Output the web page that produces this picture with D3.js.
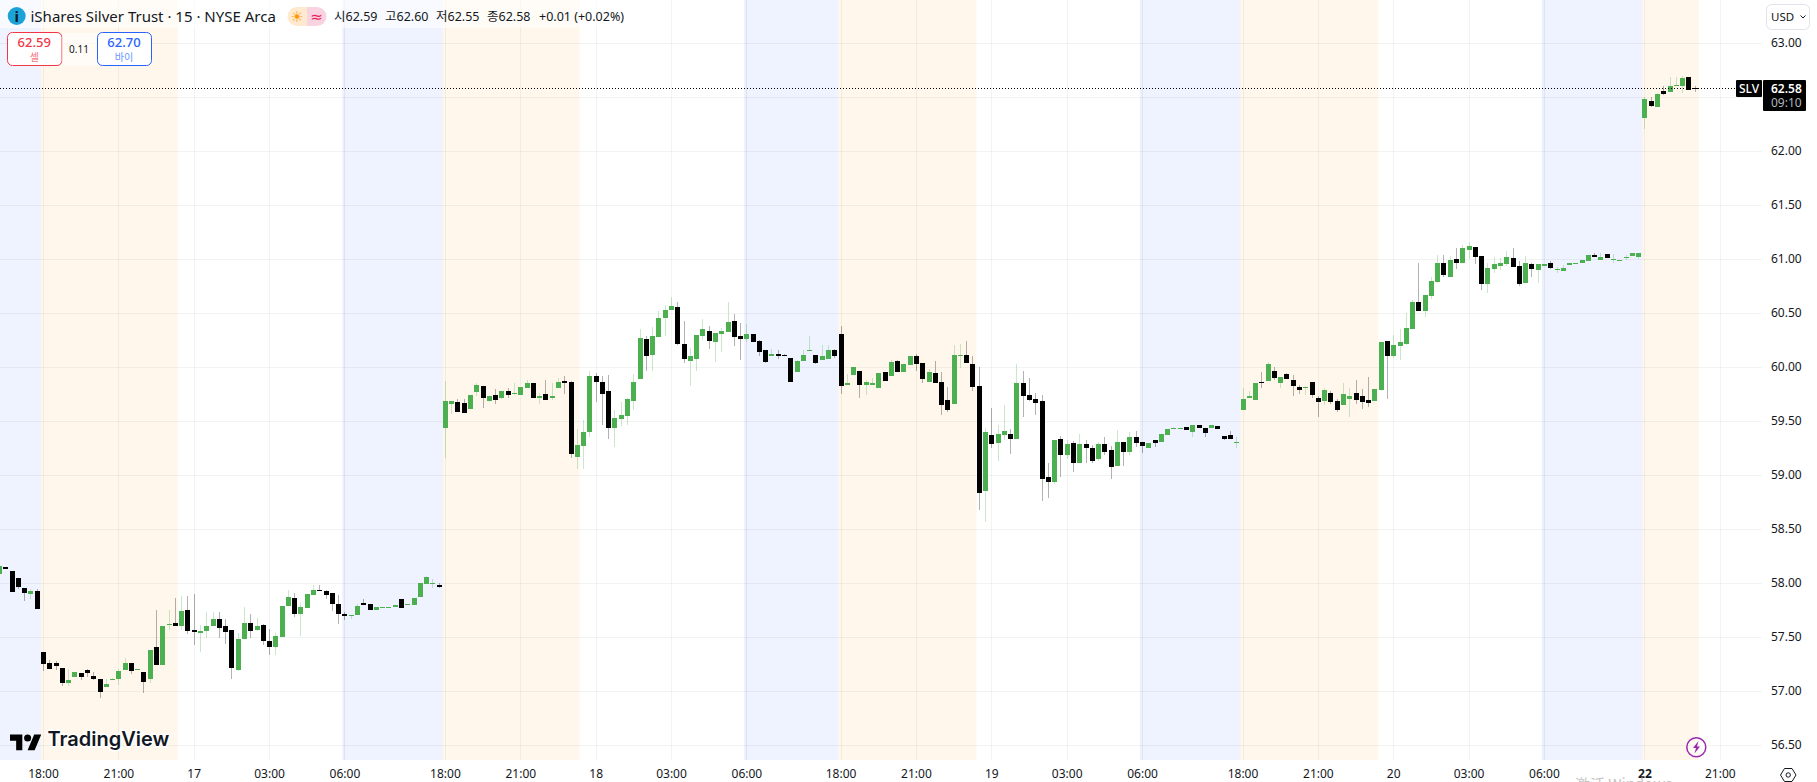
<!DOCTYPE html>
<html>
<head>
<meta charset="utf-8">
<script src="https://cdn.jsdelivr.net/npm/d3@7"></script>
<style>
  html, body { margin: 0; padding: 0; background: #fff; overflow: hidden; }
  svg { display: block; }
  text { font-family: "Noto Sans", "Noto Sans CJK KR", sans-serif; fill: #131722; }
</style>
</head>
<body>
<div id="chart"></div>
<script>
// bars run from index -7 (last bars before the first tick) to 263
var firstBar = -7;

var opens = [
  58.09,58.15,58.11,58.05,57.96,57.90,57.93,
  // 16th
  57.36,57.26,57.26,57.22,57.08,57.13,57.17,57.20,57.14,57.11,
  57.04,57.10,57.11,57.20,57.26,57.20,57.18,57.11,57.41,57.24,
  57.61,57.63,57.60,57.75,57.57,57.54,57.56,57.60,57.67,57.60,
  57.57,57.20,57.48,57.63,57.57,57.61,57.47,57.41,57.50,57.79,
  57.86,57.72,57.77,57.89,57.94,57.93,57.91,57.81,57.72,57.70,
  57.71,57.82,57.81,57.75,57.77,57.77,57.78,57.85,57.80,57.80,
  57.87,57.99,57.99,57.98,
  // 17th
  59.44,59.66,59.68,59.67,59.61,59.77,59.83,59.69,59.74,59.72,
  59.78,59.75,59.74,59.81,59.85,59.72,59.75,59.72,59.81,59.87,
  59.86,59.17,59.27,59.40,59.92,59.86,59.78,59.44,59.52,59.55,
  59.69,59.89,60.26,60.11,60.28,60.46,60.53,60.56,60.22,60.06,
  60.08,60.29,60.34,60.23,60.31,60.33,60.43,60.29,60.26,60.31,
  60.24,60.16,60.10,60.12,60.11,60.09,59.96,60.06,60.15,60.11,
  60.07,60.08,60.16,
  // 18th
  60.31,59.84,59.93,59.97,59.84,59.84,59.81,59.96,59.92,60.06,
  59.96,60.02,60.10,60.04,59.86,59.95,59.86,59.70,59.66,60.10,
  60.11,60.03,59.83,58.85,59.37,59.30,59.37,59.38,59.34,59.85,
  59.74,59.71,59.69,58.98,58.94,59.34,59.19,59.30,59.11,59.29,
  59.25,59.15,59.29,59.23,59.09,59.31,59.22,59.35,59.31,59.25,
  59.33,59.31,59.37,59.43,59.43,59.45,59.40,59.47,59.44,59.44,
  59.46,59.36,59.37,59.30,
  // 19th
  59.60,59.72,59.70,59.86,59.87,59.97,59.85,59.94,59.88,59.82,
  59.81,59.86,59.72,59.69,59.76,59.69,59.65,59.71,59.76,59.73,
  59.70,59.69,59.79,60.24,60.10,60.20,60.22,60.35,60.60,60.52,
  60.66,60.79,60.97,60.84,61.00,60.97,61.09,61.11,61.03,60.77,
  60.91,60.94,60.96,61.01,60.94,60.78,60.96,60.90,60.94,60.97,
  60.90,60.89,60.95,60.96,60.97,60.98,61.04,60.99,61.05,60.99,
  60.98,61.01,61.03,61.02,
  // 22nd
  62.31,62.47,62.41,62.56,62.55,62.60,62.60,62.69,62.59
];

var closes = [
  58.16,58.13,57.92,57.97,57.91,57.93,57.76,
  57.25,57.21,57.23,57.08,57.10,57.18,57.13,57.17,57.11,56.99,
  57.07,57.11,57.19,57.26,57.19,57.21,57.09,57.38,57.24,57.60,
  57.62,57.60,57.74,57.56,57.55,57.56,57.60,57.67,57.59,57.55,
  57.22,57.48,57.63,57.56,57.60,57.47,57.41,57.51,57.79,57.87,
  57.72,57.78,57.90,57.94,57.93,57.89,57.81,57.72,57.70,57.71,
  57.79,57.80,57.75,57.78,57.78,57.78,57.80,57.77,57.81,57.86,
  58.00,58.06,58.00,57.97,
  59.69,59.69,59.59,59.58,59.74,59.84,59.72,59.73,59.70,59.78,
  59.74,59.76,59.82,59.85,59.72,59.73,59.70,59.73,59.86,59.85,
  59.20,59.28,59.40,59.92,59.86,59.75,59.44,59.53,59.56,59.71,
  59.86,60.27,60.10,60.29,60.46,60.53,60.57,60.22,60.08,60.10,
  60.30,60.35,60.24,60.32,60.34,60.42,60.28,60.26,60.31,60.23,
  60.14,60.05,60.12,60.10,60.10,59.86,60.06,60.11,60.16,60.04,
  60.10,60.16,60.10,
  59.83,59.85,60.00,59.84,59.86,59.85,59.95,59.87,60.05,59.96,
  60.03,60.10,60.03,59.89,59.96,59.85,59.65,59.60,60.11,60.11,
  60.04,59.82,58.84,59.40,59.29,59.38,59.41,59.34,59.85,59.73,
  59.70,59.67,58.97,58.94,59.33,59.19,59.29,59.11,59.29,59.25,
  59.13,59.29,59.22,59.08,59.31,59.22,59.35,59.30,59.27,59.30,
  59.30,59.38,59.43,59.44,59.44,59.42,59.47,59.44,59.39,59.47,
  59.43,59.34,59.34,59.31,
  59.71,59.73,59.85,59.85,60.03,59.90,59.91,59.89,59.83,59.79,
  59.82,59.74,59.68,59.79,59.68,59.60,59.75,59.73,59.70,59.68,
  59.67,59.80,60.23,60.10,60.21,60.23,60.36,60.60,60.52,60.67,
  60.80,60.97,60.85,60.99,60.97,61.10,61.12,61.02,60.77,60.92,
  60.96,60.97,61.02,60.93,60.77,60.97,60.91,60.96,60.96,60.92,
  60.91,60.92,60.97,60.97,60.99,61.04,61.02,61.02,61.01,61.00,
  60.99,61.02,61.06,61.06,
  62.48,62.42,62.53,62.53,62.60,62.61,62.68,62.57,62.58
];

var highs = [
  58.17,58.15,58.11,58.05,57.96,57.95,57.95,
  57.36,57.29,57.28,57.22,57.21,57.18,57.17,57.21,57.18,57.11,
  57.11,57.12,57.21,57.31,57.26,57.21,57.18,57.38,57.75,57.60,
  57.75,57.86,57.88,57.88,57.90,57.61,57.73,57.73,57.73,57.67,
  57.57,57.54,57.78,57.72,57.68,57.62,57.58,57.54,57.79,57.94,
  57.91,57.82,57.90,57.98,57.98,57.94,57.91,57.89,57.73,57.71,
  57.81,57.85,57.81,57.78,57.78,57.78,57.80,57.85,57.81,57.86,
  58.00,58.07,58.04,58.00,
  59.87,59.69,59.71,59.71,59.74,59.85,59.83,59.73,59.80,59.78,
  59.81,59.85,59.82,59.88,59.85,59.76,59.88,59.85,59.90,59.92,
  59.87,59.43,59.51,59.97,59.95,59.92,59.93,59.60,59.68,59.72,
  59.94,60.35,60.29,60.37,60.52,60.58,60.65,60.60,60.43,60.18,
  60.30,60.45,60.38,60.32,60.36,60.60,60.49,60.41,60.40,60.31,
  60.25,60.16,60.17,60.16,60.12,60.09,60.07,60.16,60.29,60.11,
  60.21,60.21,60.17,
  60.38,59.94,60.00,59.97,59.88,59.90,59.95,59.96,60.07,60.07,
  60.03,60.10,60.12,60.04,59.98,60.06,59.96,59.82,60.21,60.22,
  60.24,60.10,60.00,59.44,59.62,59.47,59.65,59.43,60.03,59.97,
  59.90,59.76,59.74,59.11,59.33,59.36,59.33,59.32,59.38,59.33,
  59.28,59.31,59.35,59.27,59.42,59.31,59.40,59.41,59.31,59.30,
  59.33,59.38,59.43,59.45,59.44,59.45,59.47,59.47,59.44,59.47,
  59.46,59.36,59.41,59.35,
  59.81,59.78,59.85,59.96,60.05,60.00,59.91,59.95,59.93,59.84,
  59.83,59.86,59.73,59.81,59.78,59.71,59.85,59.81,59.88,59.80,
  59.91,59.80,60.23,60.24,60.30,60.35,60.50,60.62,60.97,60.67,
  60.84,61.04,61.04,61.03,61.10,61.13,61.16,61.11,61.03,60.97,
  61.02,61.01,61.08,61.10,60.98,61.03,60.97,60.96,60.96,60.98,
  60.93,60.95,60.97,60.97,60.99,61.04,61.06,61.06,61.05,61.05,
  60.99,61.04,61.06,61.06,
  62.50,62.50,62.54,62.60,62.69,62.69,62.70,62.69,62.60
];

var lows = [
  58.08,58.13,57.92,57.95,57.84,57.85,57.76,
  57.19,57.21,57.20,57.05,57.05,57.13,57.10,57.13,57.10,56.94,
  57.04,57.10,57.06,57.20,57.16,57.20,56.98,57.08,57.24,57.24,
  57.57,57.60,57.57,57.53,57.43,57.36,57.49,57.60,57.49,57.44,
  57.11,57.19,57.48,57.49,57.56,57.43,57.34,57.34,57.50,57.79,
  57.69,57.51,57.77,57.89,57.93,57.85,57.74,57.62,57.66,57.67,
  57.71,57.80,57.75,57.75,57.77,57.77,57.78,57.77,57.80,57.80,
  57.87,57.99,57.96,57.96,
  59.16,59.57,59.59,59.58,59.61,59.73,59.62,59.68,59.66,59.71,
  59.72,59.74,59.74,59.81,59.72,59.66,59.70,59.70,59.81,59.75,
  59.16,59.06,59.06,59.35,59.68,59.47,59.34,59.26,59.46,59.47,
  59.60,59.89,59.97,59.97,60.28,60.29,60.53,60.21,60.04,59.83,
  59.97,60.25,60.17,60.05,60.14,60.33,60.20,60.07,60.23,60.23,
  60.10,60.04,60.10,60.08,60.10,59.86,59.96,60.06,60.15,60.03,
  60.07,60.08,60.09,
  59.75,59.84,59.93,59.72,59.74,59.84,59.81,59.87,59.92,59.96,
  59.96,60.02,59.97,59.85,59.86,59.85,59.56,59.59,59.66,59.99,
  60.04,59.78,58.68,58.57,59.25,59.13,59.33,59.20,59.34,59.54,
  59.69,59.56,58.76,58.79,58.92,58.98,59.15,59.03,59.11,59.11,
  59.11,59.13,59.19,58.97,59.09,59.09,59.19,59.26,59.21,59.25,
  59.26,59.31,59.37,59.43,59.43,59.42,59.35,59.44,59.35,59.44,
  59.43,59.33,59.34,59.25,
  59.60,59.72,59.70,59.81,59.87,59.88,59.81,59.89,59.73,59.75,
  59.74,59.72,59.54,59.65,59.66,59.59,59.65,59.54,59.66,59.61,
  59.63,59.69,59.78,59.71,60.09,60.07,60.21,60.35,60.52,60.47,
  60.63,60.78,60.84,60.84,60.91,60.97,61.00,60.96,60.72,60.69,
  60.87,60.90,60.94,60.93,60.75,60.78,60.84,60.78,60.94,60.91,
  60.87,60.89,60.95,60.96,60.97,60.98,61.02,60.99,61.01,60.97,
  60.98,60.99,61.03,61.00,
  62.21,62.41,62.41,62.52,62.55,62.60,62.54,62.57,62.55
];

var priceTicks = [56.5,57,57.5,58,58.5,59,59.5,60,60.5,61,61.5,62,62.5,63];
var timeTickBars = [0,12,24,36,48,64,76,88,100,112,127,139,151,163,175,191,203,215,227,239,255,267];
var timeTickLabels = ['18:00','21:00','17','03:00','06:00','18:00','21:00','18','03:00','06:00','18:00','21:00','19','03:00','06:00','18:00','21:00','20','03:00','06:00','22','21:00'];

// session backgrounds, as [first bar edge, last bar edge]
var preMarket = [[-7.5,-0.5],[47.5,63.5],[111.5,126.5],[174.5,190.5],[238.5,254.5]];
var postMarket = [[-0.5,21.3],[63.5,85.3],[126.5,148.5],[190.5,212.5],[254.5,263.5]];

var bid = 62.59, ask = 62.70, change = 0.01, changePct = 0.02;

var width = 1817, height = 782, plotRight = 1762, plotBottom = 760;

var svg = d3.select('#chart').append('svg')
    .attr('width', width)
    .attr('height', height);

svg.append('rect').attr('width', width).attr('height', height).attr('fill', '#fff');

var x = d3.scaleLinear().domain([0, 267]).range([44, 1720.8]);
var y = d3.scaleLinear().domain([56.5, 63]).range([745.3, 43.3]);

var bars = opens.map(function(o, k) {
    return { i: firstBar + k, o: o, c: closes[k], h: highs[k], l: lows[k] };
});
var last = bars[bars.length - 1];

svg.append('clipPath').attr('id', 'plot')
  .append('rect').attr('width', plotRight).attr('height', plotBottom);

var plot = svg.append('g').attr('clip-path', 'url(#plot)');

// session bands
plot.selectAll('.pre').data(preMarket).enter().append('rect')
    .attr('class', 'pre')
    .attr('x', d => x(d[0]))
    .attr('width', d => x(d[1]) - x(d[0]))
    .attr('height', plotBottom)
    .attr('fill', '#2962ff')
    .attr('fill-opacity', 0.08);

plot.selectAll('.pre-edge').data(preMarket.slice(1)).enter().append('rect')
    .attr('class', 'pre-edge')
    .attr('x', d => x(d[0]))
    .attr('width', d => x(d[0] + 0.5) - x(d[0]))
    .attr('height', plotBottom)
    .attr('fill', '#2a2e39')
    .attr('fill-opacity', 0.015);

plot.selectAll('.post').data(postMarket).enter().append('rect')
    .attr('class', 'post')
    .attr('x', d => x(d[0]))
    .attr('width', d => x(d[1]) - x(d[0]))
    .attr('height', plotBottom)
    .attr('fill', '#ff9800')
    .attr('fill-opacity', 0.08);

// grid
plot.selectAll('.hgrid').data(priceTicks).enter().append('rect')
    .attr('class', 'hgrid')
    .attr('x', 0)
    .attr('y', d => Math.round(y(d)))
    .attr('width', plotRight)
    .attr('height', 1)
    .attr('fill', '#2a2e39')
    .attr('fill-opacity', 0.06);

plot.selectAll('.vgrid').data(timeTickBars).enter().append('rect')
    .attr('class', 'vgrid')
    .attr('x', d => Math.round(x(d)) - 1)
    .attr('width', 1)
    .attr('height', plotBottom)
    .attr('fill', '#2a2e39')
    .attr('fill-opacity', 0.06);

// candles
plot.selectAll('.wick').data(bars).enter().append('rect')
    .attr('class', 'wick')
    .attr('x', d => Math.round(x(d.i)) - 1)
    .attr('y', d => Math.round(y(d.h)))
    .attr('width', 1)
    .attr('height', d => Math.max(1, Math.round(y(d.l)) - Math.round(y(d.h))))
    .attr('fill', d => d.c >= d.o ? '#4caf50' : '#000')
    .attr('fill-opacity', 0.3);

plot.selectAll('.body').data(bars).enter().append('rect')
    .attr('class', 'body')
    .attr('x', d => Math.round(x(d.i)) - 3)
    .attr('y', d => Math.round(y(Math.max(d.o, d.c))))
    .attr('width', 5)
    .attr('height', d => Math.max(1, Math.round(y(Math.min(d.o, d.c))) - Math.round(y(Math.max(d.o, d.c)))))
    .attr('fill', d => d.c >= d.o ? '#4caf50' : '#000');

// last price line
var lastY = Math.round(y(last.c)) - 0.5;
svg.append('line')
    .attr('x1', 0).attr('x2', 1735)
    .attr('y1', lastY).attr('y2', lastY)
    .attr('stroke', '#000')
    .attr('stroke-dasharray', '1,2');

// axes
var yAxis = svg.append('g')
    .attr('transform', 'translate(' + plotRight + ',-1)')
    .call(d3.axisRight(y).tickValues(priceTicks).tickSize(0).tickPadding(9).tickFormat(d3.format('.2f')));
yAxis.select('.domain').remove();
yAxis.selectAll('text').style('font-size', '12px').style('font-family', '"Noto Sans"').attr('fill', '#131722');

var xAxis = svg.append('g')
    .attr('transform', 'translate(-1,' + plotBottom + ')')
    .call(d3.axisBottom(x).tickValues(timeTickBars).tickSize(0).tickPadding(9)
        .tickFormat((d, k) => timeTickLabels[k]));
xAxis.select('.domain').remove();
xAxis.selectAll('text')
    .style('font-size', '12px')
    .style('font-family', '"Noto Sans"')
    .attr('fill', '#131722')
    .style('font-weight', (d, k) => timeTickLabels[k] === '22' ? 'bold' : 'normal');

// legend row
svg.append('rect')
    .attr('width', 628).attr('height', 28)
    .attr('fill', '#fff').attr('fill-opacity', 0.6);

svg.append('circle').attr('cx', 16.7).attr('cy', 16).attr('r', 9).attr('fill', '#1ba3d9');
svg.append('text').attr('x', 16.7).attr('y', 21.5).attr('text-anchor', 'middle')
    .style('font-size', '15px').style('font-weight', 'bold').text('i');

svg.append('text').attr('x', 30.5).attr('y', 22)
    .style('font-size', '15px')
    .text('iShares Silver Trust · 15 · NYSE Arca');

// market status pill
svg.append('path').attr('d', 'M307,7H297a9.5,9.5 0 0 0 0,19H307Z').attr('fill', '#ffe9cf');
svg.append('path').attr('d', 'M307,7H317a9.5,9.5 0 0 1 0,19H307Z').attr('fill', '#f9d3e0');
svg.append('text').attr('x', 297).attr('y', 21.5).attr('text-anchor', 'middle')
    .style('font-size', '15px').style('font-family', '"DejaVu Sans"').style('fill', '#ff9800').text('☀');
svg.append('text').attr('x', 316.5).attr('y', 21.5).attr('text-anchor', 'middle')
    .style('font-size', '15px').style('font-family', '"DejaVu Sans"').style('fill', '#e91e63').text('≈');

var f2 = d3.format('.2f');
var ohlc = [
    { x: 334, s: '시' + f2(last.o) },
    { x: 385, s: '고' + f2(last.h) },
    { x: 436, s: '저' + f2(last.l) },
    { x: 487, s: '종' + f2(last.c) },
    { x: 539, s: '+' + f2(change) + ' (+' + f2(changePct) + '%)' }
];
svg.selectAll('.ohlc').data(ohlc).enter().append('text')
    .attr('class', 'ohlc')
    .attr('x', d => d.x)
    .attr('y', 21)
    .style('font-size', '12.5px')
    .text(d => d.s);

// sell / buy boxes
function quoteBox(x0, w, price, label, color, soft) {
    svg.append('rect')
        .attr('x', x0 + 0.5).attr('y', 32.5)
        .attr('width', w).attr('height', 33).attr('rx', 5)
        .attr('fill', '#fff').attr('stroke', color);
    svg.append('text').attr('x', x0 + w / 2).attr('y', 46.5).attr('text-anchor', 'middle')
        .style('font-size', '13px').style('font-weight', '500').style('fill', color).text(f2(price));
    svg.append('text').attr('x', x0 + w / 2).attr('y', 60.5).attr('text-anchor', 'middle')
        .style('font-size', '10px').style('fill', soft).text(label);
}
quoteBox(7, 54.5, bid, '셀', '#f23645', '#f7727d');
quoteBox(97, 54, ask, '바이', '#2962ff', '#6c93ff');

svg.append('rect').attr('x', 62).attr('y', 33).attr('width', 35).attr('height', 33)
    .attr('fill', '#fff').attr('fill-opacity', 0.6);
svg.append('text').attr('x', 79).attr('y', 52.5).attr('text-anchor', 'middle')
    .style('font-size', '10px').text(f2(ask - bid));

// currency button
svg.append('rect')
    .attr('x', 1766.5).attr('y', 4.5).attr('width', 43).attr('height', 25).attr('rx', 5)
    .attr('fill', '#fff').attr('stroke', '#e0e3eb');
svg.append('text').attr('x', 1771).attr('y', 21).style('font-size', '11.5px').text('USD');
svg.append('path').attr('d', 'M1800.5,15.5l2.5,2.5l2.5,-2.5')
    .attr('fill', 'none').attr('stroke', '#131722');

// last price labels
svg.append('rect').attr('x', 1736).attr('y', 80).attr('width', 26).attr('height', 17).attr('rx', 1).attr('fill', '#000');
svg.append('text').attr('x', 1749).attr('y', 93).attr('text-anchor', 'middle')
    .style('font-size', '12px').style('font-weight', '500').style('fill', '#fff').text('SLV');
svg.append('rect').attr('x', 1763).attr('y', 80).attr('width', 43).attr('height', 31).attr('rx', 1).attr('fill', '#000');
svg.append('text').attr('x', 1771).attr('y', 93)
    .style('font-size', '12px').style('font-weight', '600').style('fill', '#fff').text(f2(last.c));
svg.append('text').attr('x', 1771).attr('y', 107)
    .style('font-size', '12px').style('fill', '#b2b5be').text('09:10');

// TradingView logo
var logo = svg.append('g').attr('transform', 'translate(10,731) scale(0.88)');
logo.append('path').attr('d', 'M14 22H7V11H0V4h14v18zM28 22h-8l7.5-18h8L28 22z').attr('fill', '#000');
logo.append('circle').attr('cx', 20).attr('cy', 8).attr('r', 4).attr('fill', '#000');
svg.append('text').attr('x', 47.5).attr('y', 745.5)
    .style('font-family', 'Inter')
    .style('font-size', '20px')
    .style('font-weight', '600')
    .style('stroke', '#fff').style('stroke-width', 3).style('paint-order', 'stroke')
    .text('TradingView');

// flash icon
svg.append('circle').attr('cx', 1696.3).attr('cy', 747.3).attr('r', 9.5)
    .attr('fill', '#fff').attr('fill-opacity', 0.4).attr('stroke', '#9c27b0').attr('stroke-width', 1.5);
svg.append('path').attr('d', 'M1698.5,741l-5.5,7h3l-1.5,5.5l5.5,-7h-3z').attr('fill', '#9c27b0');

// settings icon
svg.append('path').attr('d', 'M1780.5,775l4,-6.5h7.5l4,6.5l-4,6.5h-7.5z')
    .attr('fill', 'none').attr('stroke', '#131722');
svg.append('circle').attr('cx', 1788.2).attr('cy', 775).attr('r', 2.2)
    .attr('fill', 'none').attr('stroke', '#131722');

// os watermark clipped by the bottom of the screenshot
svg.append('text').attr('x', 1575).attr('y', 790)
    .style('font-size', '15px').style('fill', '#c4c4c4')
    .style('font-family', '"Noto Sans CJK SC"')
    .text('激活 Windows');
</script>
</body>
</html>
